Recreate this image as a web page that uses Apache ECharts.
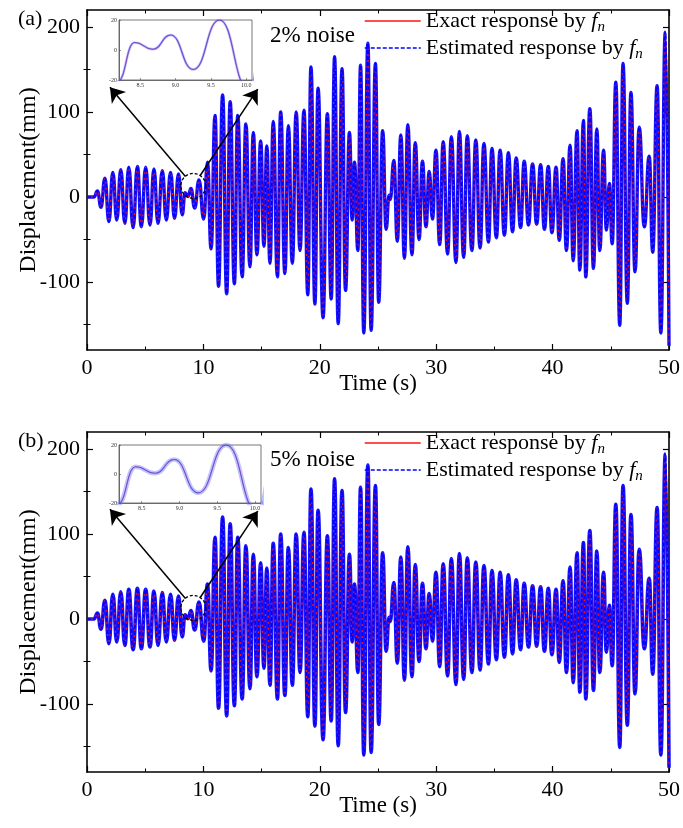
<!DOCTYPE html>
<html><head><meta charset="utf-8">
<script src="https://cdn.jsdelivr.net/npm/echarts@6/dist/echarts.min.js"></script>
<style>html,body{margin:0;padding:0;background:#fff}#c{width:683px;height:828px}</style>
</head><body><div id="c"></div>
<script>
// Extrema (peaks / troughs) of the displacement response
const extremaTime = [0,0.6,0.9,1.2,1.54,1.88,2.22,2.56,2.9,3.25,
 3.59,3.96,4.33,4.67,5.04,5.41,5.75,6.1,6.47,6.81,
 7.18,7.52,7.86,8.18,8.42,8.68,8.93,9.25,9.62,10.03,
 10.35,10.66,11.0,11.3,11.65,12.0,12.3,12.66,12.95,13.33,
 13.65,14.0,14.29,14.6,14.92,15.2,15.45,15.72,16.0,16.36,
 16.64,17.0,17.3,17.64,17.97,18.3,18.64,18.97,19.24,19.58,
 19.85,20.28,20.65,20.98,21.27,21.58,21.91,22.21,22.55,22.78,
 22.98,23.27,23.5,23.78,24.13,24.41,24.78,25.06,25.4,25.7,
 25.95,26.05,26.36,26.66,26.96,27.27,27.56,27.92,28.2,28.53,
 28.82,29.12,29.4,29.68,29.98,30.3,30.6,30.98,31.3,31.7,
 31.99,32.36,32.67,33.07,33.4,33.77,34.1,34.49,34.79,35.17,
 35.49,35.86,36.2,36.56,36.87,37.25,37.56,37.93,38.28,38.63,
 38.97,39.3,39.63,39.94,40.3,40.57,40.9,41.19,41.5,41.77,
 42.1,42.34,42.65,42.85,43.2,43.51,43.8,44.05,44.38,44.62,
 44.88,45.12,45.43,45.77,46.05,46.42,46.73,47.08,47.44,47.88,
 48.3,48.6,48.98,49.3,49.68,50.0];
const extremaDisp = [0,0,7,-12,22,-29,29,-27,32,-31,
 35,-36,36,-35,35,-33,33,-31,31,-27,
 29,-25,27,-21,5,0.5,10,-13,20,-26,
 41,-61,96,-105,120,-114,112,-102,96,-94,
 86,-82,76,-68,66,-58,60,-78,89,-94,
 100,-90,84,-78,100,-63,102,-115,153,-126,
 128,-142,98,-120,165,-149,151,-110,76,-27,
 41,-63,155,-160,181,-157,157,-124,78,-38,
 2,-3,43,-52,73,-72,85,-68,64,-50,
 42,-35,30,-26,55,-56,65,-67,71,-77,
 77,-71,72,-63,67,-60,63,-53,57,-48,
 55,-45,52,-41,46,-36,42,-33,39,-32,
 38,-38,36,-42,35,-51,45,-63,61,-75,
 78,-86,90,-94,104,-84,80,-63,55,-39,
 16,-55,135,-151,157,-125,123,-88,82,-35,
 48,-65,131,-160,194,-175];
const yMajorTicks = [-100,0,100,200];
const yMinorTicks = [-150,-50,50,150];
const insetXTicks = [8.5,9.0,9.5,10.0];
const panelLabels = ['(a)','(b)'];
const noiseLabels = ['2% noise','5% noise'];
const legendNames = ['Exact response','Estimated response'];
// annotation anchors in data units (zoom circle, arrow tails/tips)
const circleAt = [9.13,13];
const arrowLeft = [[8.46,24],[1.97,129]];
const arrowRight = [[9.71,25],[14.67,127]];

const FONT = "'Liberation Serif','Times New Roman',serif";
const pts = extremaTime.map((t,i)=>[t, extremaDisp[i]]);

const panels = [
  {top:10, inset:{left:119, top:20, width:133, height:60}, legTop:[10,37], noiseTop:19, labTop:3, halo:3.4, insetHalo:2.6},
  {top:432, inset:{left:119, top:445, width:142, height:58}, legTop:[432,459], noiseTop:443, labTop:425, halo:3.6, insetHalo:4.5}
];

const option = {animation:false, backgroundColor:'#fff', grid:[], xAxis:[], yAxis:[], series:[], legend:[], title:[]};
const rich = {
  t:{fontFamily:FONT, fontSize:22, color:'#000', lineHeight:28, verticalAlign:'middle'},
  f:{fontFamily:FONT, fontSize:22, color:'#000', fontStyle:'italic', lineHeight:28},
  s:{fontFamily:FONT, fontSize:15, color:'#000', fontStyle:'italic', lineHeight:12, verticalAlign:'bottom'}
};

panels.forEach((p, idx) => {
  const gM = idx*2, gI = idx*2+1;
  option.grid.push({left:87, right:13, top:p.top, height:340, show:false});
  option.grid.push({left:p.inset.left, top:p.inset.top, width:p.inset.width, height:p.inset.height, show:true,
    backgroundColor:'#fff', borderColor:'#555', borderWidth:0.8});
  const xb = idx*3, yb = idx*5;
  const xCommon = {type:'value', min:0, max:50, interval:10, gridIndex:gM,
    axisLine:{show:true, onZero:false, lineStyle:{color:'#000', width:1.6}},
    axisTick:{show:true, inside:true, length:6, lineStyle:{color:'#000', width:1.2}},
    minorTick:{show:true, splitNumber:2, length:3.5, lineStyle:{color:'#000', width:1}},
    splitLine:{show:false}, minorSplitLine:{show:false}};
  option.xAxis.push(Object.assign({}, xCommon, {position:'bottom',
    axisLabel:{fontFamily:FONT, fontSize:22, color:'#000', margin:7},
    name:'Time (s)', nameLocation:'middle', nameGap:22, nameMoveOverlap:false,
    nameTextStyle:{fontFamily:FONT, fontSize:23, color:'#000'}}));
  option.xAxis.push(Object.assign({}, xCommon, {position:'top', axisLabel:{show:false}}));
  option.xAxis.push({type:'value', gridIndex:gI, min:8.2, max:10.08,
    axisLine:{show:true, onZero:false, lineStyle:{color:'#555', width:0.8}},
    axisTick:{show:true, inside:true, length:2, customValues:insetXTicks, lineStyle:{color:'#555', width:0.6}},
    axisLabel:{show:true, customValues:insetXTicks, fontSize:6, color:'#333', margin:2, fontFamily:FONT,
      formatter:v=>v.toFixed(1)},
    splitLine:{show:false}});
  const yCommon = {type:'value', min:-180, max:220, gridIndex:gM, splitLine:{show:false}};
  option.yAxis.push(Object.assign({}, yCommon, {position:'left',
    axisLine:{show:true, onZero:false, lineStyle:{color:'#000', width:1.6}},
    axisTick:{show:true, inside:true, length:6, customValues:yMajorTicks, lineStyle:{color:'#000', width:1.2}},
    axisLabel:{show:true, customValues:yMajorTicks, fontFamily:FONT, fontSize:22, color:'#000', margin:7},
    name:'Displacement(mm)', nameLocation:'middle', nameGap:46, nameMoveOverlap:false,
    nameTextStyle:{fontFamily:FONT, fontSize:24, color:'#000'}}));
  option.yAxis.push(Object.assign({}, yCommon, {position:'left', axisLine:{show:false},
    axisTick:{show:true, inside:true, length:3.5, customValues:yMinorTicks, lineStyle:{color:'#000', width:1}},
    axisLabel:{show:false}}));
  option.yAxis.push(Object.assign({}, yCommon, {position:'right',
    axisLine:{show:true, onZero:false, lineStyle:{color:'#000', width:1.6}},
    axisTick:{show:true, inside:true, length:6, customValues:yMajorTicks, lineStyle:{color:'#000', width:1.2}},
    axisLabel:{show:false}}));
  option.yAxis.push(Object.assign({}, yCommon, {position:'right', axisLine:{show:false},
    axisTick:{show:true, inside:true, length:3.5, customValues:yMinorTicks, lineStyle:{color:'#000', width:1}},
    axisLabel:{show:false}}));
  option.yAxis.push({type:'value', gridIndex:gI, min:-20, max:20, interval:20,
    axisLine:{show:true, onZero:false, lineStyle:{color:'#555', width:0.8}},
    axisTick:{show:true, inside:true, length:2, lineStyle:{color:'#555', width:0.6}},
    axisLabel:{show:true, fontSize:6, color:'#333', margin:2, fontFamily:FONT},
    splitLine:{show:false}});

  const base = {type:'line', data:pts, smooth:0.5, smoothMonotone:'x', symbol:'none', silent:true};
  option.series.push(Object.assign({}, base, {name:'halo'+idx, xAxisIndex:xb, yAxisIndex:yb, z:2,
    lineStyle:{color:'#0a0aff', width:p.halo, opacity:0.95}}));
  option.series.push(Object.assign({}, base, {name:legendNames[0], xAxisIndex:xb, yAxisIndex:yb, z:3,
    lineStyle:{color:'#ff1010', width:1.1}}));
  option.series.push(Object.assign({}, base, {name:legendNames[1], xAxisIndex:xb, yAxisIndex:yb, z:4,
    lineStyle:{color:'#0000ff', width:1.6, type:[4,2]}}));
  // annotation layer: dashed zoom circle and arrows
  option.series.push({type:'line', name:'annot'+idx, data:[], xAxisIndex:xb, yAxisIndex:yb, z:20, silent:true,
    symbol:'none',
    markPoint:{silent:true, symbol:'circle', symbolSize:25, label:{show:false},
      itemStyle:{color:'rgba(255,255,255,0)', borderColor:'#000', borderWidth:1.3, borderType:[3,2]},
      data:[{coord:circleAt}]},
    markLine:{silent:true, symbol:['none','arrow'], symbolSize:14, label:{show:false},
      lineStyle:{color:'#000', width:1.5, type:'solid'},
      data:[[{coord:arrowLeft[0]},{coord:arrowLeft[1]}],[{coord:arrowRight[0]},{coord:arrowRight[1]}]]}});
  // inset
  option.series.push(Object.assign({}, base, {name:'ih'+idx, xAxisIndex:xb+2, yAxisIndex:yb+4, z:6,
    lineStyle:{color:'rgba(90,110,255,0.4)', width:p.insetHalo}}));
  option.series.push(Object.assign({}, base, {name:'ie'+idx, xAxisIndex:xb+2, yAxisIndex:yb+4, z:7,
    lineStyle:{color:'#ff3030', width:0.9, opacity:0.7}}));
  option.series.push(Object.assign({}, base, {name:'ib'+idx, xAxisIndex:xb+2, yAxisIndex:yb+4, z:8,
    lineStyle:{color:'#3a3aff', width:1.1, opacity:0.65}}));

  option.title.push({text:panelLabels[idx], left:13, top:p.labTop,
    textStyle:{fontFamily:FONT, fontSize:22, fontWeight:'normal', color:'#000'}});
  option.title.push({text:noiseLabels[idx], left:265, top:p.noiseTop,
    textStyle:{fontFamily:FONT, fontSize:23, fontWeight:'normal', color:'#000'}});
  legendNames.forEach((nm, k) => {
    option.legend.push({data:[nm], left:364, top:p.legTop[k], orient:'vertical', itemWidth:56, itemHeight:14,
      selectedMode:false, padding:0,
      itemStyle:{opacity:0},
      lineStyle:{width:1.5},
      formatter:()=> (k===0 ? '{t|Exact response by }' : '{t|Estimated response by }') + '{f|f}{s|n}',
      textStyle:{fontFamily:FONT, fontSize:22, color:'#000', rich:rich}});
  });
});

const chart = echarts.init(document.getElementById('c'), null, {renderer:'canvas'});
chart.setOption(option);
</script>
</body></html>
